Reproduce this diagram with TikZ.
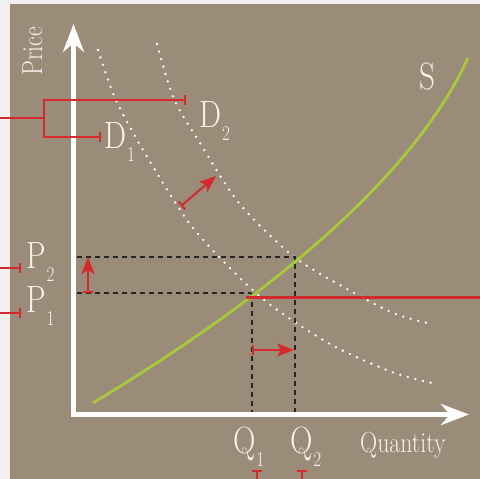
\documentclass[tikz,border=0pt]{standalone}
\usetikzlibrary{arrows.meta}
\definecolor{bgout}{HTML}{F2F1EF}
\definecolor{bgin}{HTML}{9B8B79}
\definecolor{redc}{HTML}{D42A2E}
\definecolor{greenc}{HTML}{A8C93A}
\definecolor{labelc}{HTML}{F6F2EC}
\definecolor{dashc}{HTML}{262626}
\newcommand\myxs[1]{\scalebox{0.82}[1]{#1}}
\newcommand\bigtxt[2]{\myxs{\fontsize{38}{38}\selectfont #1\kern1pt\raisebox{-13pt}{\fontsize{21}{21}\selectfont #2}}}
\tikzset{
  lbl/.style={text=labelc, inner sep=0pt, anchor=base west},
  axisline/.style={draw=white, line width=5pt, line join=miter,
     {Stealth[length=28pt,width=21pt,inset=9pt]}-{Stealth[length=28pt,width=21pt,inset=9pt]}},
  demand/.style={draw=white, line width=2.6pt, line cap=round, dash pattern=on 0pt off 7.8pt},
  supply/.style={draw=greenc, line width=2.8pt},
  guide/.style={draw=dashc, line width=1.4pt, dash pattern=on 5pt off 4pt},
  redln/.style={draw=redc, line width=2pt},
  redarrow/.style={draw=redc, line width=2pt, {Bar[width=10pt]}-{Stealth[length=17pt,width=13pt,inset=4pt]}},
  redbar/.style={draw=redc, line width=2pt, -{Bar[width=10pt]}},
}
\begin{document}
\begin{tikzpicture}[x=1pt,y=-1pt]
\useasboundingbox (0,0) rectangle (480,479);
\fill[bgout] (0,0) rectangle (480,479);
\fill[bgin] (10,4) rectangle (480,479);

% demand curves
\path[demand] plot[smooth] coordinates {(98,50) (115,98) (143,150) (187,220) (225,263) (268,303) (330,344) (392,372) (432,383)};
\path[demand] plot[smooth] coordinates {(157,44) (174,99) (200,143) (239,203) (293,256) (347,289) (393,313) (427,323)};

% guides
\coordinate (p2l) at (77,257);
\coordinate (e2) at (295,257);
\coordinate (p1l) at (77,293);
\coordinate (e1) at (251,293);
\coordinate (q1t) at (252,293);
\coordinate (q1b) at (252,412);
\coordinate (q2b) at (295,412);
\draw[guide] (p2l) -- (e2) -- (q2b);
\draw[guide] (p1l) -- (e1);
\draw[guide] (q1t) -- (q1b);

% supply
\coordinate (s0) at (93,403);
\coordinate (s1) at (468,58);
\path[supply] (s0) .. controls (230,320) and (405,195) .. (s1);

% red horizontal line
\coordinate (rs) at (246,297);
\coordinate (re) at (480,297);
\draw[draw=redc, line width=3pt] (rs) -- (re);

% axes
\coordinate (ytip) at (73.5,24);
\coordinate (orig) at (73.5,414.5);
\coordinate (xtip) at (469,414.5);
\path[axisline] (ytip) -- (orig) -- (xtip);

% red arrows
\coordinate (ua0) at (88,293);
\coordinate (ua1) at (88,257);
\draw[redarrow] (ua0) -- (ua1);
\coordinate (ra0) at (252,350);
\coordinate (ra1) at (294,350);
\draw[redarrow] (ra0) -- (ra1);
\coordinate (da0) at (181,206);
\coordinate (da1) at (216,176);
\draw[redarrow] (da0) -- (da1);

% red bracket
\coordinate (bl) at (0,118);
\coordinate (bm) at (44,118);
\coordinate (bt) at (44,100);
\coordinate (bb) at (44,137);
\coordinate (btr) at (186,100);
\coordinate (bbr) at (101,137);
\draw[redln] (bl) -- (bm);
\draw[redbar] (bm) -- (bt) -- (btr);
\draw[redbar] (bm) -- (bb) -- (bbr);

% P markers
\coordinate (pm2a) at (0,268);
\coordinate (pm2b) at (21,268);
\coordinate (pm1a) at (0,313);
\coordinate (pm1b) at (21,313);
\draw[redbar] (pm2a) -- (pm2b);
\draw[redbar] (pm1a) -- (pm1b);

% Q markers
\coordinate (qm1a) at (257,480);
\coordinate (qm1b) at (257,470);
\coordinate (qm2a) at (302,480);
\coordinate (qm2b) at (302,470);
\draw[redbar] (qm1a) -- (qm1b);
\draw[redbar] (qm2a) -- (qm2b);

% labels
\node[lbl] (D1) at (104,148) {\bigtxt{D}{1}};
\node[lbl] (D2) at (199,127) {\bigtxt{D}{2}};
\node[lbl] (P2) at (26,268) {\bigtxt{P}{2}};
\node[lbl] (P1) at (26,312) {\bigtxt{P}{1}};
\node[lbl] (Q1) at (233,453) {\bigtxt{Q}{1}};
\node[lbl] (Q2) at (290,453) {\bigtxt{Q}{2}};
\node[lbl] (S) at (419,89) {\myxs{\fontsize{38}{38}\selectfont S}};
\node[lbl] (Qty) at (360,452) {\myxs{\fontsize{29}{29}\selectfont Quantity}};
\node[lbl, rotate=90] (Pr) at (42,76) {\myxs{\fontsize{29}{29}\selectfont Price}};
\end{tikzpicture}
\end{document}
